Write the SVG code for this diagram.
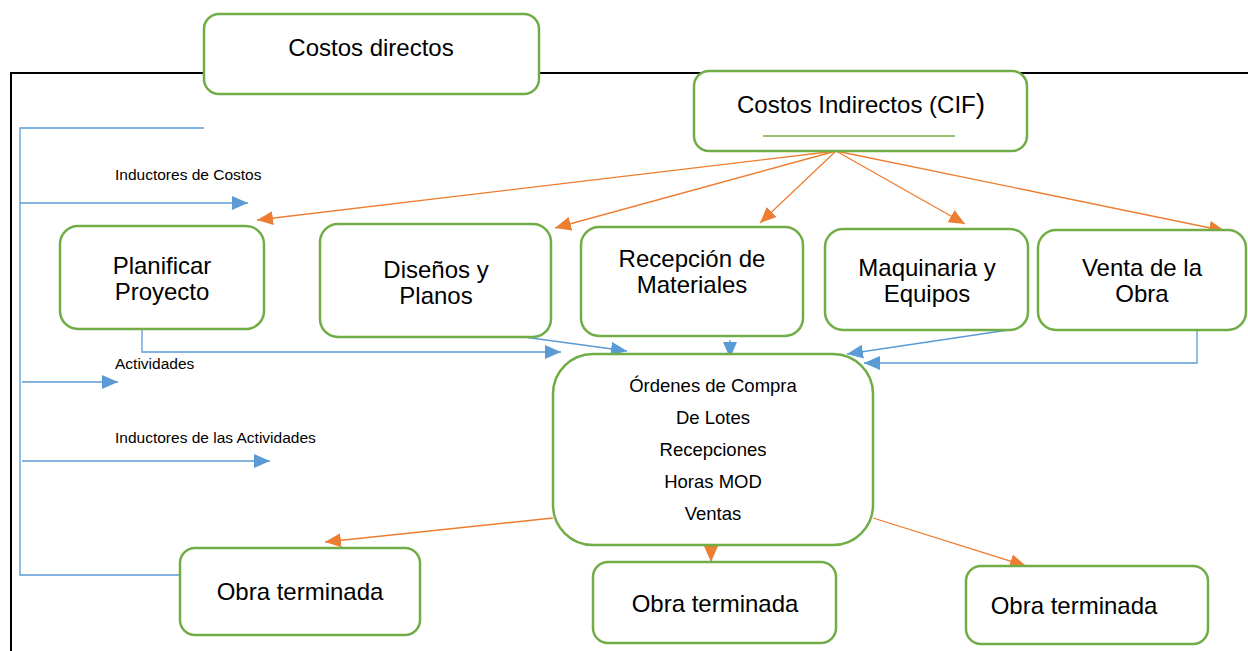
<svg xmlns="http://www.w3.org/2000/svg" width="1248" height="651" viewBox="0 0 1248 651">
<defs>
<style>
.box{fill:#fff;stroke:#70AD47;stroke-width:2.5}
.t{font-family:"Liberation Sans",Arial,sans-serif;fill:#000;text-anchor:middle}
.big{font-size:24px}
.mid{font-size:18.5px}
.sm{font-family:"Liberation Sans",Arial,sans-serif;font-size:15.5px;fill:#000}
.b{stroke:#5B9BD5;stroke-width:1.3;fill:none}
.o{stroke:#ED7D31;stroke-width:1.3;fill:none}
</style>
<marker id="ab" markerUnits="userSpaceOnUse" markerWidth="18" markerHeight="14" refX="16" refY="7" orient="auto"><path d="M0,0 L16,7 L0,14 Z" fill="#5B9BD5"/></marker>
<marker id="ao" markerUnits="userSpaceOnUse" markerWidth="18" markerHeight="14" refX="16" refY="7" orient="auto"><path d="M0,0 L16,7 L0,14 Z" fill="#ED7D31"/></marker>
</defs>
<rect width="1248" height="651" fill="#fff"/>
<path d="M11,651 V73 H1248" stroke="#000" stroke-width="2" fill="none"/>
<g id="connectors">
<path class="b" d="M204,128 H20 V575 H180"/>
<path class="b" d="M20,203 H248" marker-end="url(#ab)"/>
<path class="b" d="M22,382 H118" marker-end="url(#ab)"/>
<path class="b" d="M22,461 H270" marker-end="url(#ab)"/>
<path class="b" d="M142,329 V352 H561" marker-end="url(#ab)"/>
<path class="b" d="M524,337 L627,351" marker-end="url(#ab)"/>
<path class="b" d="M730,340 V358" marker-end="url(#ab)"/>
<path class="b" d="M1015,329 L847,354" marker-end="url(#ab)"/>
<path class="b" d="M1197,325 V363 H864" marker-end="url(#ab)"/>
<path class="o" d="M836,151 L257,220" marker-end="url(#ao)"/>
<path class="o" d="M836,151 L555,228" marker-end="url(#ao)"/>
<path class="o" d="M836,151 L760,223" marker-end="url(#ao)"/>
<path class="o" d="M836,151 L965,224" marker-end="url(#ao)"/>
<path class="o" d="M836,151 L1225,231" marker-end="url(#ao)"/>
<path class="o" d="M553,518 L325,542" marker-end="url(#ao)"/>
<path class="o" d="M711,545 V562" marker-end="url(#ao)"/>
<path class="o" d="M873,518 L1026,566" marker-end="url(#ao)"/>
</g>
<text class="sm" x="115" y="180">Inductores de Costos</text>
<text class="sm" x="115" y="369">Actividades</text>
<text class="sm" x="115" y="443">Inductores de las Actividades</text>
<g id="costos-directos">
<rect class="box" x="204" y="14" width="335" height="80" rx="15"/>
<text class="t big" x="371" y="56">Costos directos</text>
</g>
<g id="costos-indirectos">
<rect class="box" x="694" y="71" width="333" height="80" rx="15"/>
<text class="t big" x="861" y="113">Costos Indirectos (CIF<tspan font-size="28">)</tspan></text>
<line x1="763" y1="136" x2="955" y2="136" stroke="#70AD47" stroke-width="1.5"/>
</g>
<g id="planificar">
<rect class="box" x="60" y="226" width="204" height="103" rx="18"/>
<text class="t big" x="162" y="274">Planificar</text>
<text class="t big" x="162" y="300">Proyecto</text>
</g>
<g id="disenos">
<rect class="box" x="320" y="224" width="231" height="113" rx="18"/>
<text class="t big" x="436" y="278">Diseños y</text>
<text class="t big" x="436" y="304">Planos</text>
</g>
<g id="recepcion">
<rect class="box" x="581" y="227" width="222" height="109" rx="18"/>
<text class="t big" x="692" y="267">Recepción de</text>
<text class="t big" x="692" y="293">Materiales</text>
</g>
<g id="maquinaria">
<rect class="box" x="825" y="229" width="203" height="101" rx="18"/>
<text class="t big" x="927" y="276">Maquinaria y</text>
<text class="t big" x="927" y="302">Equipos</text>
</g>
<g id="venta">
<rect class="box" x="1038" y="230" width="208" height="100" rx="18"/>
<text class="t big" x="1142" y="276">Venta de la</text>
<text class="t big" x="1142" y="302">Obra</text>
</g>
<g id="inductores">
<rect class="box" x="553" y="354" width="320" height="191" rx="40"/>
<text class="t mid" x="713" y="392">Órdenes de Compra</text>
<text class="t mid" x="713" y="424">De Lotes</text>
<text class="t mid" x="713" y="456">Recepciones</text>
<text class="t mid" x="713" y="488">Horas MOD</text>
<text class="t mid" x="713" y="520">Ventas</text>
</g>
<g id="obra1">
<rect class="box" x="180" y="548" width="240" height="87" rx="15"/>
<text class="t big" x="300" y="600">Obra terminada</text>
</g>
<g id="obra2">
<rect class="box" x="593" y="562" width="243" height="81" rx="15"/>
<text class="t big" x="715" y="612">Obra terminada</text>
</g>
<g id="obra3">
<rect class="box" x="966" y="566" width="242" height="78" rx="15"/>
<text class="t big" x="1074" y="614">Obra terminada</text>
</g>
</svg>
